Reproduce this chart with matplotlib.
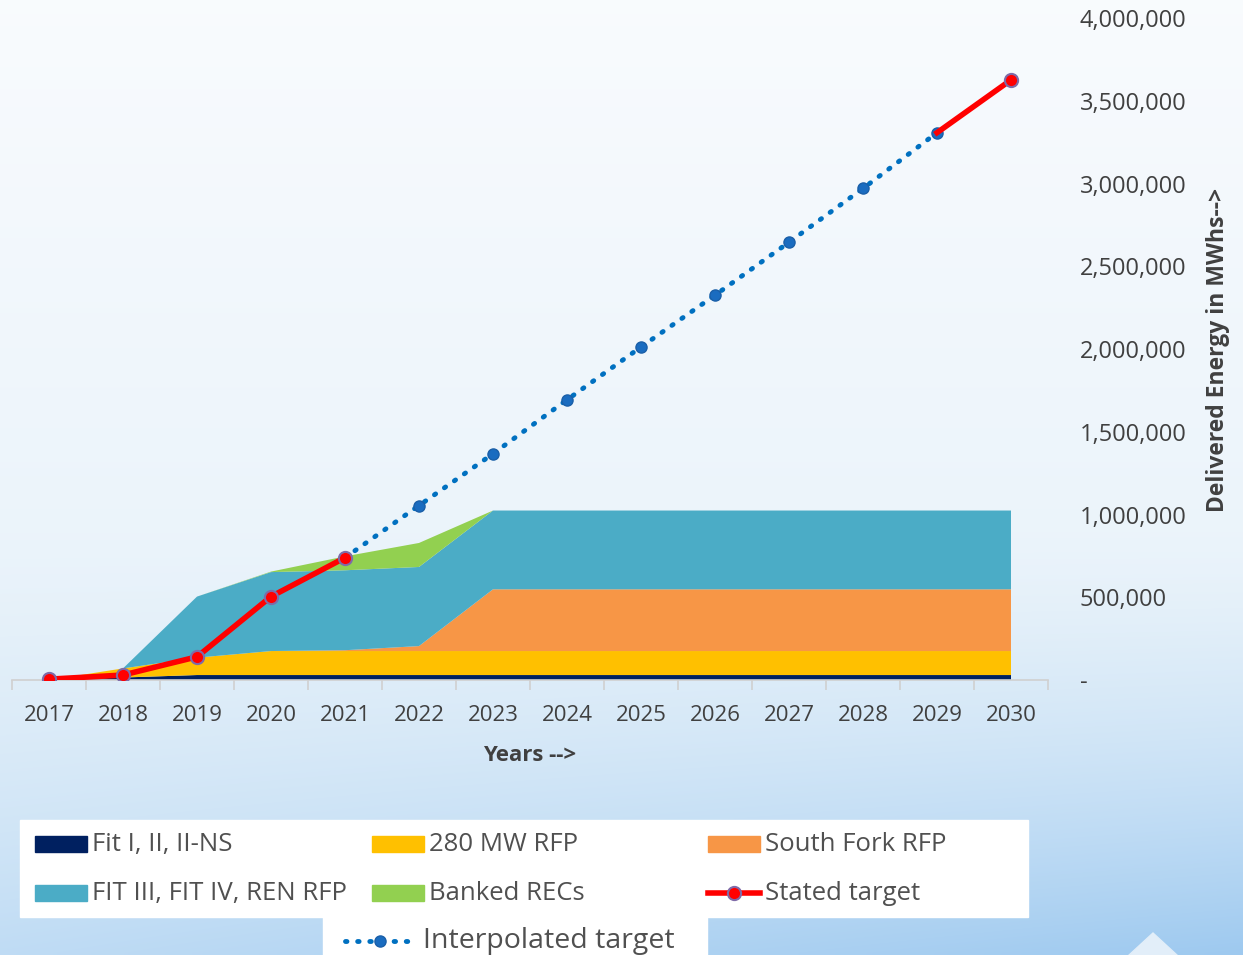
import numpy as np
import matplotlib
matplotlib.use('Agg')
import matplotlib.pyplot as plt
from matplotlib.patches import Polygon
from matplotlib.ticker import FuncFormatter

years = ['2017', '2018', '2019', '2020', '2021', '2022', '2023',
         '2024', '2025', '2026', '2027', '2028', '2029', '2030']

# stacked delivered energy (MWh)
fit_1_2 = [0, 15000, 30000, 30000, 30000, 30000, 30000,
           30000, 30000, 30000, 30000, 30000, 30000, 30000]
rfp_280 = [0, 55000, 105000, 145000, 145000, 145000, 145000,
           145000, 145000, 145000, 145000, 145000, 145000, 145000]
south_fork = [0, 0, 0, 0, 5000, 30000, 373000,
              373000, 373000, 373000, 373000, 373000, 373000, 373000]
fit_3_4 = [0, 0, 369000, 477000, 483000, 478000, 476000,
           476000, 476000, 476000, 476000, 476000, 476000, 476000]
banked = [0, 0, 0, 3000, 84000, 145000, 0,
          0, 0, 0, 0, 0, 0, 0]

stated = [5000, 30000, 140000, 504000, 739000, np.nan, np.nan,
          np.nan, np.nan, np.nan, np.nan, np.nan, 3307000, 3626000]
interp = [np.nan, np.nan, np.nan, np.nan, 739000, 1054000, 1367000,
          1693000, 2012000, 2325000, 2645000, 2970000, 3307000, np.nan]

labels = ['Fit I, II, II-NS', '280 MW RFP', 'South Fork RFP',
          'FIT III, FIT IV, REN RFP', 'Banked RECs']
colors = ['#002060', '#FFC000', '#F79646', '#4BACC6', '#92D050']

W, H = 1243, 955
fig = plt.figure(figsize=(W / 100, H / 100), dpi=100)

# background gradient
bg = fig.add_axes([0, 0, 1, 1], zorder=-10)
yy = np.linspace(0, 1, 200)[:, None]
xx = np.linspace(0, 1, 300)[None, :]
top = np.array([0.975, 0.985, 0.995])
mid = np.array([0.91, 0.95, 0.98])
bot = np.array([0.62, 0.79, 0.94])
t = np.clip((yy - 0.55) / 0.45, 0, 1) ** 1.6 * (0.55 + 0.45 * xx)
s = np.clip(yy / 0.7, 0, 1)
img = np.zeros((200, 300, 3))
for c in range(3):
    base = top[c] + (mid[c] - top[c]) * s
    img[:, :, c] = base + (bot[c] - base) * t
bg.imshow(img, aspect='auto', extent=[0, 1, 1, 0], interpolation='bilinear')
bg.set_xlim(0, 1)
bg.set_ylim(1, 0)
bg.axis('off')

ax = fig.add_axes([12 / W, 1 - 680 / H, 1036 / W, 662 / H])
ax.patch.set_alpha(0)
x = np.arange(len(years))
ax.stackplot(x, fit_1_2, rfp_280, south_fork, fit_3_4, banked,
             colors=colors, labels=labels, linewidth=0)

ax.plot(x, stated, color='#FF0000', lw=4, marker='o', ms=9.5,
        mfc='#FF0000', mec='#7F6BA8', mew=1.5, zorder=4,
        label='Stated target', markevery=[0, 1, 2, 3, 4, 13])
ax.plot(x, interp, color='#0070C0', lw=3.5, ls=(0, (0.3, 2.2)),
        dash_capstyle='round', marker='o', ms=8, mfc='#1a6cc0',
        mec='#1a5fa8', mew=1, zorder=3, markevery=list(range(5, 13)),
        label='Interpolated target')

ax.set_xlim(-0.5, 13.5)
ax.set_ylim(0, 4000000)
ax.set_xticks(x)
ax.set_xticklabels(years)
ax.set_xticks(np.arange(-0.5, 14, 1), minor=True)
ax.tick_params(axis='x', which='major', length=0, pad=18,
               labelsize=16, labelcolor='#404040')
ax.tick_params(axis='x', which='minor', length=7, color='#d0d0d0', width=1.2)
for lbl in ax.get_xticklabels():
    lbl.set_fontfamily('Open Sans')

ax.yaxis.tick_right()
ax.set_yticks(np.arange(0, 4000001, 500000))
ax.yaxis.set_major_formatter(FuncFormatter(
    lambda v, p: '-' if v == 0 else f'{int(v):,}'))
ax.tick_params(axis='y', length=0, pad=23, labelsize=17, labelcolor='#404040')
for lbl in ax.get_yticklabels():
    lbl.set_fontfamily('Open Sans')

for sp in ['top', 'left', 'right']:
    ax.spines[sp].set_visible(False)
ax.spines['bottom'].set_color('#d0d0d0')
ax.spines['bottom'].set_linewidth(1.2)

fig.text(530 / W, 1 - 755 / H, 'Years -->', ha='center', va='center',
         fontsize=16, fontweight='bold', color='#404040', family='Open Sans')
fig.text(1218 / W, 1 - 350 / H, 'Delivered Energy in MWhs-->', ha='center',
         va='center', rotation=90, fontsize=16.5, fontweight='bold',
         color='#404040', family='Open Sans')

# legend boxes
lg = fig.add_axes([0, 0, 1, 1], zorder=5)
lg.set_xlim(0, W)
lg.set_ylim(H, 0)
lg.axis('off')
lg.add_patch(Polygon([[1128, 956], [1153, 933], [1178, 956]], closed=True,
                     color='#e2eef9'))
lg.add_patch(plt.Rectangle((20, 820), 1008, 97, color='white'))
lg.add_patch(plt.Rectangle((323, 917), 384, 40, color='white'))

entries = [(35, 844, 0), (372, 844, 1), (708, 844, 2),
           (35, 893, 3), (372, 893, 4)]
for (lx, ly, i) in entries:
    lg.add_patch(plt.Rectangle((lx, ly - 8), 52, 16, color=colors[i]))
    lg.text(lx + 57, ly, labels[i], va='center', fontsize=18.5,
            color='#505050', family='Open Sans')
lg.plot([708, 760], [893, 893], color='#FF0000', lw=4)
lg.plot([734], [893], marker='o', ms=9.5, mfc='#FF0000', mec='#7F6BA8', mew=1.5)
lg.text(765, 893, 'Stated target', va='center', fontsize=18.5,
        color='#505050', family='Open Sans')
lg.plot([345, 412], [941, 941], color='#0070C0', lw=3.5, ls=(0, (0.3, 2.2)),
        dash_capstyle='round')
lg.plot([380], [941], marker='o', ms=8, mfc='#1a6cc0', mec='#1a5fa8')
lg.text(423, 941, 'Interpolated target', va='center', fontsize=20.5,
        color='#505050', family='Open Sans')

fig.savefig('out.png', dpi=100)
